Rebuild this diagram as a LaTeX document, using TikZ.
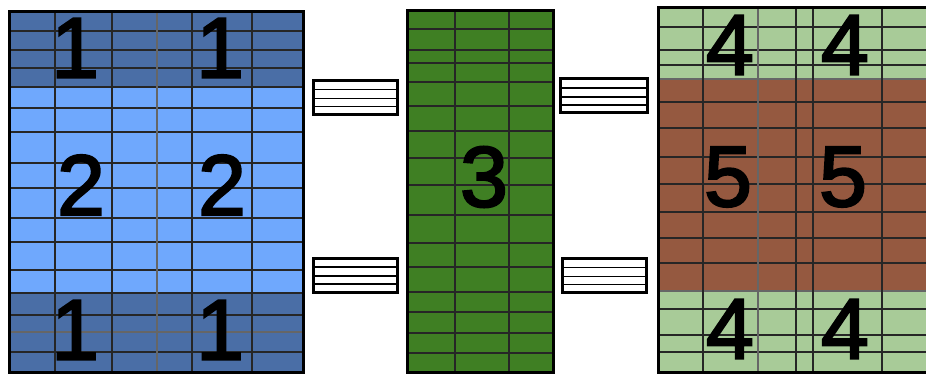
\documentclass[tikz,border=0pt]{standalone}
\usepackage{fontspec}
\setmainfont{Liberation Sans}
\newfontfamily\digitfont[FakeBold=2.5]{Liberation Sans}
\usepackage{xcolor}
\usepackage{tikz}
\definecolor{darkblue}{HTML}{4A6EA6}
\definecolor{lightblue}{HTML}{6FA8FD}
\definecolor{leafgreen}{HTML}{3F7F23}
\definecolor{palegreen}{HTML}{A8CB98}
\definecolor{rust}{HTML}{955940}

\begin{document}
\begin{tikzpicture}[
    x=1pt, y=-1pt,
    gridline/.style={line width=1.6pt, black!85},
    faintline/.style={line width=1.3pt, black!60},
    frame/.style={line width=3pt, black},
    digit/.style={font=\digitfont\fontsize{86}{86}\selectfont, inner sep=0pt},
    eqbox/.style={draw, line width=3pt, fill=white,
                  minimum width=84pt, minimum height=34pt, inner sep=0pt,
                  path picture={
                    \foreach \d in {-9,-1,8}
                      \draw[line width=1.6pt] ([yshift=\d pt]path picture bounding box.west)
                        -- ([yshift=\d pt]path picture bounding box.east);
                  }}
]
\clip (0,0) rectangle (926,374);

% left block
\fill[darkblue] (9,12) rectangle (303,87);
\fill[lightblue] (9,87) rectangle (303,293);
\fill[darkblue] (9,293) rectangle (303,372);
\foreach \y in {31,50,68,87,108,132,163,188,218,242,270,293,315,352}
    \draw[gridline] (9,\y) -- (303,\y);
\draw[faintline] (9,332) -- (303,332);
\foreach \x in {55,112,192,252}
    \draw[gridline] (\x,12) -- (\x,372);
\draw[faintline] (157,12) -- (157,372);
\draw[frame] (9,12) rectangle (303,372);

% middle block
\fill[leafgreen] (407,11) rectangle (553,372);
\foreach \y in {29,50,63,82,106,131,158,185,215,243,267,292,312,333,353}
    \draw[gridline] (407,\y) -- (553,\y);
\foreach \x in {455,509}
    \draw[gridline] (\x,11) -- (\x,372);
\draw[frame] (407,11) rectangle (553,372);

% right block
\fill[palegreen] (658,8) rectangle (940,79);
\fill[rust] (658,79) rectangle (940,291);
\fill[palegreen] (658,291) rectangle (940,372);
\foreach \y in {27,50,65,102,128,157,184,212,238,263,309,335,352}
    \draw[gridline] (658,\y) -- (940,\y);
\foreach \y in {79,291}
    \draw[faintline] (658,\y) -- (940,\y);
\foreach \x in {703,796,813,882}
    \draw[gridline] (\x,8) -- (\x,372);
\draw[faintline] (758,8) -- (758,372);
\draw[frame] (940,8) -- (658,8) -- (658,372) -- (940,372);

% equals signs
\node[eqbox] (eqlefttop) at (355,97.5) {};
\node[eqbox] (eqleftbot) at (355.5,275) {};
\node[eqbox, minimum width=87pt] (eqrighttop) at (603.5,96) {};
\node[eqbox, minimum width=84pt] (eqrightbot) at (604,275.5) {};

% labels
\node[digit] (oneA) at (75,48) {1};
\node[digit] (oneB) at (220,48) {1};
\node[digit] (twoA) at (81,185) {2};
\node[digit] (twoB) at (222,185) {2};
\node[digit] (oneC) at (75,330) {1};
\node[digit] (oneD) at (220,330) {1};
\node[digit] (three) at (484,177) {3};
\node[digit] (fourA) at (730,45) {4};
\node[digit] (fourB) at (845,45) {4};
\node[digit] (fiveA) at (728,177) {5};
\node[digit] (fiveB) at (843,177) {5};
\node[digit] (fourC) at (730,329) {4};
\node[digit] (fourD) at (845,329) {4};
\end{tikzpicture}
\end{document}
